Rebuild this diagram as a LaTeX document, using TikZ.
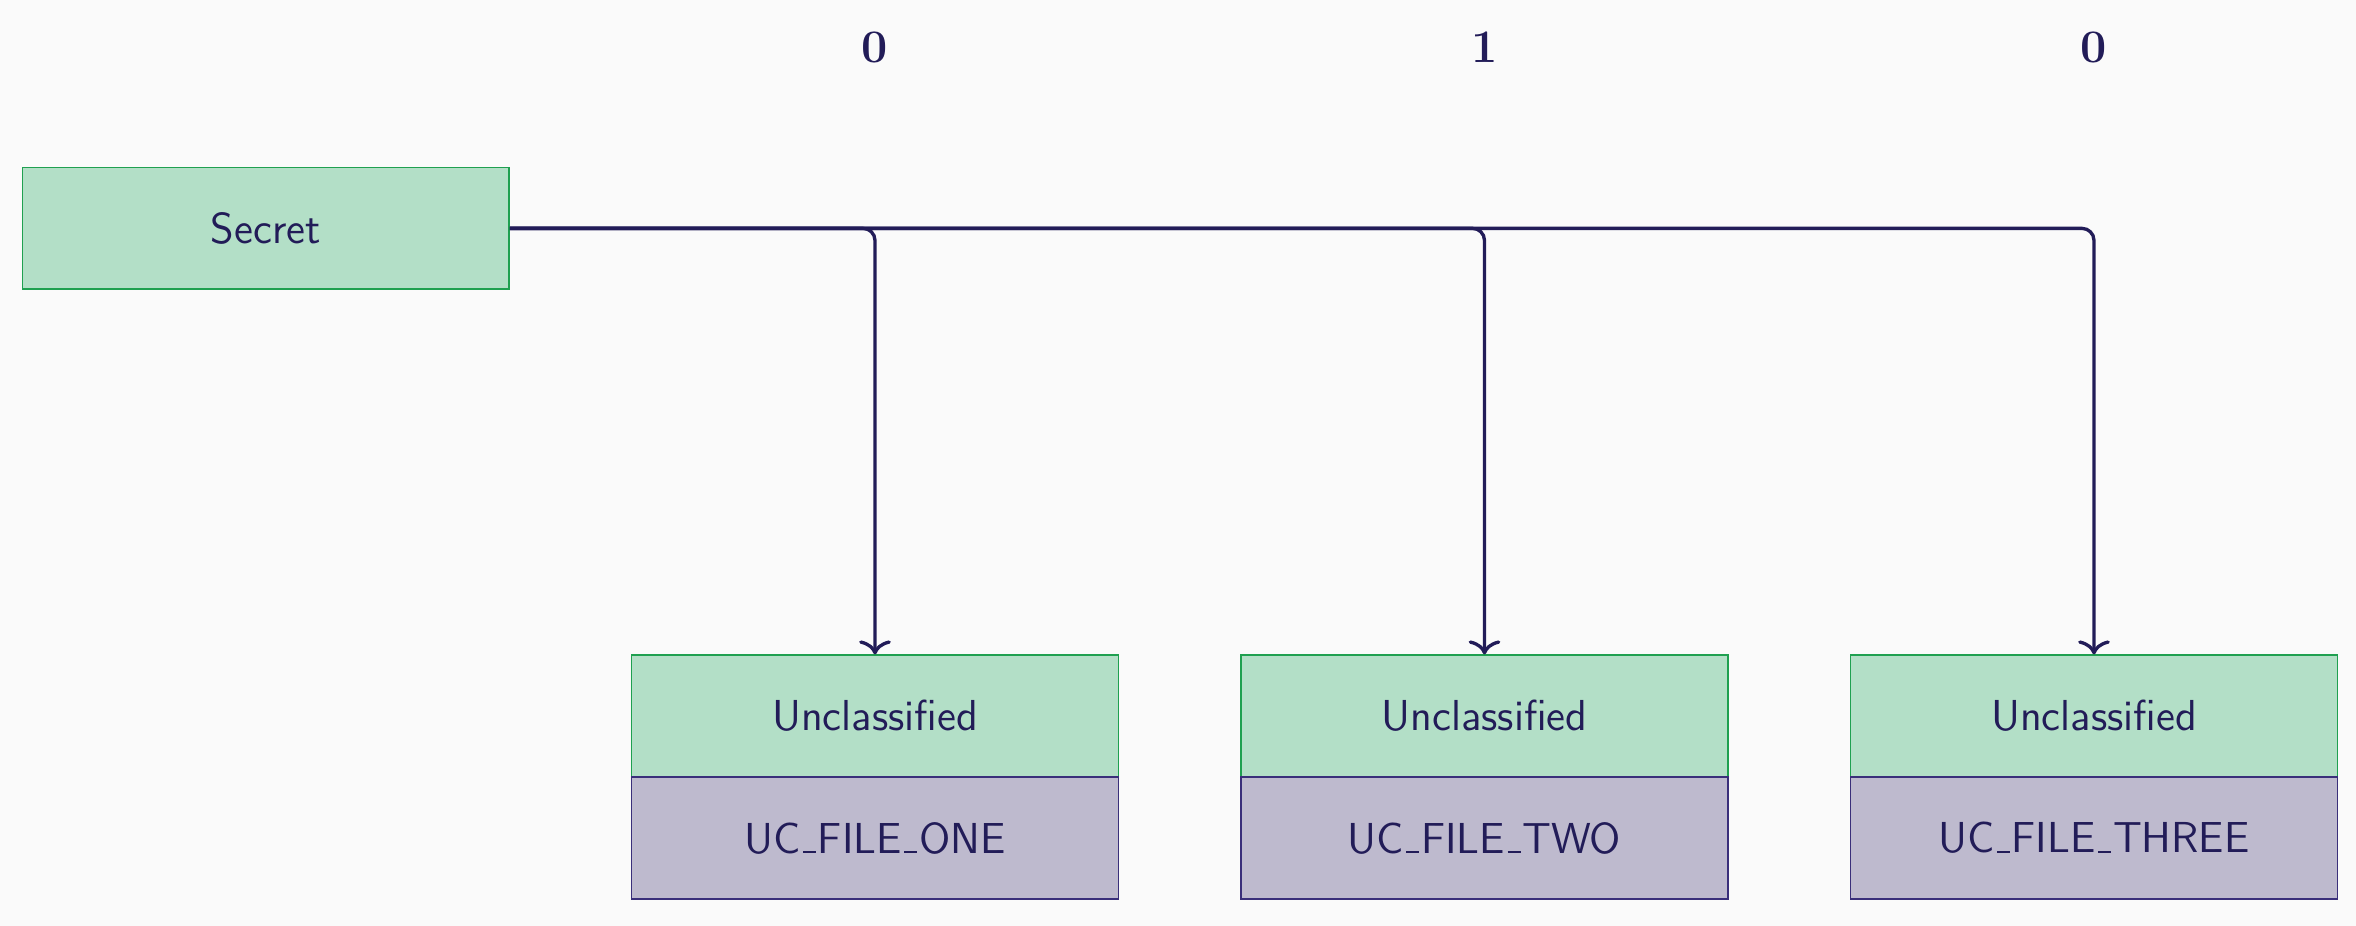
\documentclass[tikz,border=0pt]{standalone}
\usetikzlibrary{arrows.meta}
\definecolor{bg}{HTML}{FAFAFA}
\definecolor{ink}{HTML}{221C58}
\definecolor{gfill}{HTML}{B3DFC7}
\definecolor{gline}{HTML}{1FA050}
\definecolor{pfill}{HTML}{BEBACE}
\definecolor{pline}{HTML}{3A2F7A}
\newcommand\lowbar{\leavevmode\kern.06em\rule{.3em}{.05em}\kern.04em}
\begin{document}
\begin{tikzpicture}[x=0.3pt,y=-0.3pt,
  greenbox/.style={draw=gline,fill=gfill,line width=0.45pt,minimum width=146pt,minimum height=36.5pt,inner sep=0pt,text=ink,font=\sffamily\fontsize{13}{15}\selectfont},
  purplebox/.style={draw=pline,fill=pfill,line width=0.45pt,minimum width=146pt,minimum height=36.5pt,inner sep=0pt,text=ink,font=\sffamily\fontsize{13}{15}\selectfont},
  toplabel/.style={text=ink,font=\bfseries\fontsize{14}{16}\selectfont,inner sep=0pt},
  conn/.style={draw=ink,line width=1pt,rounded corners=3.6pt,-{To[length=4.2pt,width=9.5pt]}}]
\fill[bg] (0,0) rectangle (2356,926);
\useasboundingbox (0,0) rectangle (2356,926);
\node[greenbox] (secret) at (265.75,228.4) {Secret};
\node[greenbox] (u1) at (875,716) {Unclassified};
\node[purplebox] (f1) at (875,838) {UC\lowbar FILE\lowbar ONE};
\node[greenbox] (u2) at (1484.5,716) {Unclassified};
\node[purplebox] (f2) at (1484.5,838) {UC\lowbar FILE\lowbar TWO};
\node[greenbox] (u3) at (2094,716) {Unclassified};
\node[purplebox] (f3) at (2094,838) {UC\lowbar FILE\lowbar THREE};
\node[toplabel] (l1) at (875,47) {0};
\node[toplabel] (l2) at (1484.5,47) {1};
\node[toplabel] (l3) at (2094,47) {0};
\draw[conn] (secret.east) -| (u1.north);
\draw[conn] (secret.east) -| (u2.north);
\draw[conn] (secret.east) -| (u3.north);
\end{tikzpicture}
\end{document}
